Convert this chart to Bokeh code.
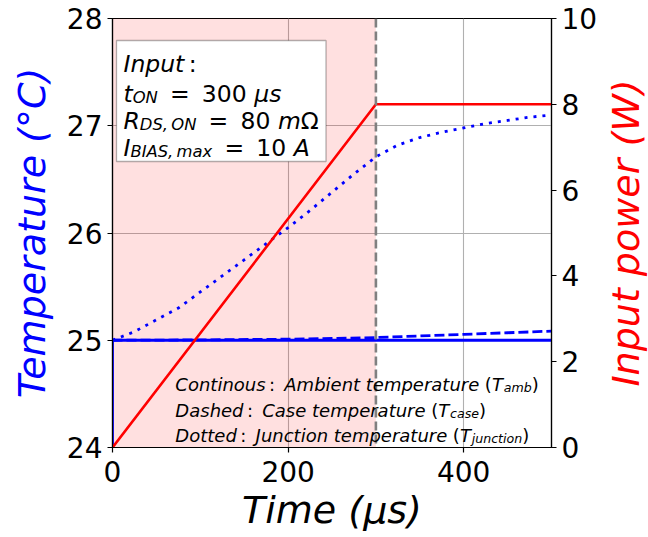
import math
from bokeh.plotting import figure
from bokeh.layouts import row
from bokeh.models import Range1d, LinearAxis, FixedTicker, BoxAnnotation, Span, Label
from bokeh.embed import file_html
from bokeh.resources import INLINE

# ---------------- data ----------------
time_us = [0, 25, 50, 75, 100, 125, 150, 175, 200, 225, 250, 275, 300,
           325, 350, 375, 400, 425, 450, 475, 500]
t_junction = [25.00, 25.08, 25.19, 25.30, 25.45, 25.60, 25.75, 25.90, 26.05,
              26.21, 26.38, 26.55, 26.71, 26.82, 26.89, 26.94, 26.98, 27.02,
              27.05, 27.08, 27.10]
case_time = [0, 100, 200, 300, 350, 400, 450, 500]
t_case = [25.00, 25.003, 25.01, 25.025, 25.04, 25.055, 25.07, 25.085]
ambient_time = [0, 0, 500]
t_ambient = [24.0, 25.0, 25.0]
power_time = [0, 300, 500]
power_w = [0, 8, 8]
t_on = 300
x_ticks = [0, 200, 400]
temp_ticks = [24, 25, 26, 27, 28]
power_ticks = [0, 2, 4, 6, 8, 10]

# ---------------- layout helpers (window px -> data) ----------------
FX0, FX1, FY0, FY1 = 112, 552, 447, 18
def dx(px):
    return (px - FX0) * 500.0 / (FX1 - FX0)
def dy(py):
    return 24 + (FY0 - py) * 4.0 / (FY0 - FY1)

FONT = "DejaVu Sans"
# DejaVu Sans advance widths (em)
GW = {'a': .613, 'b': .635, 'c': .550, 'd': .635, 'e': .615, 'h': .634, 'i': .278,
      'j': .278, 'm': .974, 'n': .634, 'o': .612, 'p': .635, 'r': .411, 's': .521,
      't': .392, 'u': .634, 'x': .592, 'A': .684, 'B': .686, 'C': .698, 'D': .770,
      'I': .295, 'J': .295, 'N': .748, 'O': .787, 'R': .695, 'S': .635, 'T': .611,
      ',': .318, ':': .337, '=': .838, '(': .390, ')': .390, '0': .636, '1': .636,
      '3': .636, '8': .636, 'μ': .636, 'Ω': .765, ' ': .318}
def wem(s):
    return sum(GW.get(c, 0.6) for c in s)

W, H = 648, 537
SIDE_W = 48          # strip on the right that carries the power-axis title
MAIN_W = W - SIDE_W

p = figure(width=MAIN_W, height=H, x_range=Range1d(0, 500), y_range=Range1d(24, 28),
           output_backend="svg", toolbar_location=None,
           min_border_left=FX0, min_border_right=MAIN_W - FX1, min_border_top=FY1,
           min_border_bottom=H - FY0)
p.extra_y_ranges = {"power": Range1d(0, 10)}
p.background_fill_color = "white"
p.border_fill_color = "white"
p.outline_line_color = "black"
p.outline_line_width = 1.2

# shaded on-time region
p.add_layout(BoxAnnotation(left=0, right=t_on, fill_color="#ff0000", fill_alpha=0.12,
                           line_alpha=0, level="underlay"))

# grid
p.xgrid.ticker = FixedTicker(ticks=x_ticks)
p.ygrid.ticker = FixedTicker(ticks=temp_ticks)
for g in (p.xgrid, p.ygrid):
    g.grid_line_color = "#b0b0b0"
    g.grid_line_width = 1.1

# axes
def style_axis(ax, label, color):
    ax.major_label_text_font = FONT
    ax.major_label_text_font_size = "28px"
    ax.major_label_text_color = "black"
    ax.major_tick_out = 5
    ax.major_tick_in = 0
    ax.minor_tick_out = 0
    ax.minor_tick_in = 0
    ax.axis_line_color = "black"
    ax.axis_line_width = 1.2
    ax.major_tick_line_width = 1.2
    ax.major_label_standoff = 5
    if label:
        ax.axis_label = label
        ax.axis_label_text_font = FONT
        ax.axis_label_text_font_size = "38px"
        ax.axis_label_text_font_style = "italic"
        ax.axis_label_text_color = color

xax = p.xaxis[0]
lax = p.yaxis[0]
xax.ticker = FixedTicker(ticks=x_ticks)
lax.ticker = FixedTicker(ticks=temp_ticks)
style_axis(xax, "Time (μs)", "black")
style_axis(lax, "Temperature (°C)", "blue")
xax.major_label_standoff = 8
xax.axis_label_standoff = 3
lax.axis_label_standoff = 10

rax = LinearAxis(y_range_name="power", ticker=FixedTicker(ticks=power_ticks))
style_axis(rax, None, "red")
p.add_layout(rax, "right")

# lines
p.line(time_us, t_junction, line_color="blue", line_width=2.8, line_dash="3 6")
p.line(case_time, t_case, line_color="blue", line_width=2.8, line_dash="10 4")
p.line(ambient_time, t_ambient, line_color="blue", line_width=2.8)
p.line(power_time, power_w, line_color="red", line_width=2.6, y_range_name="power")

p.add_layout(Span(location=t_on, dimension="height", line_color="#808080",
                  line_width=2.6, line_dash="9 4"))

def put(text, px, py, size, style="italic", color="black"):
    p.add_layout(Label(x=dx(px), y=dy(py), text=text, text_font=FONT,
                       text_font_size=f"{size:.1f}px", text_font_style=style,
                       text_color=color, text_align="left", text_baseline="alphabetic"))

# mathtext-like flow: tokens are ("k", m-units) kerns or (text, style, is_sub)
SUBSCALE = 0.7
def flow(x0, base, size, tokens):
    x = x0
    m_em = GW['m']
    for tok in tokens:
        if tok[0] == "k":
            x += tok[1] * m_em * size
            continue
        txt, st, sub = tok
        fs = size * SUBSCALE if sub else size
        put(txt, x, base + (0.15 * size if sub else 0), fs, style=st)
        x += wem(txt) * fs

SP = ("k", 1 / 3)       # "\ "
REL = ("k", 0.2)        # spacing around relations
SUBP = ("k", 0.2 * SUBSCALE)  # space after comma inside subscript

# input parameter box
p.add_layout(BoxAnnotation(left=dx(116), right=dx(326), top=dy(40), bottom=dy(161),
                           fill_color="white", fill_alpha=1.0, line_color="black",
                           line_width=1.3))
BOX = 23.5
def eq_tail(num, unit):
    return [SP, REL, ("=", "normal", False), REL, SP, (num, "normal", False), SP] + unit
flow(123, 63, BOX, [("Input", "italic", False), REL, (":", "normal", False)])
flow(123, 93, BOX, [("t", "italic", False), ("ON", "italic", True)]
     + eq_tail("300", [("μs", "italic", False)]))
flow(123, 120, BOX, [("R", "italic", False), ("DS,", "italic", True), SUBP, ("ON", "italic", True)]
     + eq_tail("80", [("m", "italic", False), ("Ω", "normal", False)]))
flow(123, 147, BOX, [("I", "italic", False), ("BIAS,", "italic", True), SUBP, ("max", "italic", True)]
     + eq_tail("10", [("A", "italic", False)]))

# line-style notes
NOTE = 18.0
def note(base, head, desc1, desc2, sub):
    flow(175, base, NOTE, [(head, "italic", False), REL, (":", "normal", False), REL, SP,
                           (desc1, "italic", False), SP, (desc2, "italic", False), SP,
                           ("(", "normal", False), ("T", "italic", False), ("k", 0.05),
                           (sub, "italic", True), (")", "normal", False)])
note(384, "Continous", "Ambient", "temperature", "amb")
note(410, "Dashed", "Case", "temperature", "case")
note(435, "Dotted", "Junction", "temperature", "junction")

# right strip: a tick-less left axis whose title reads bottom-to-top like the reference
side = figure(width=SIDE_W, height=H, x_range=Range1d(0, 1), y_range=Range1d(0, 10),
              output_backend="svg", toolbar_location=None, x_axis_type=None,
              min_border_left=SIDE_W - 1, min_border_right=0,
              min_border_top=FY1, min_border_bottom=H - FY0)
side.outline_line_color = None
side.background_fill_color = "white"
side.border_fill_color = "white"
side.ygrid.visible = False
sax = side.yaxis[0]
sax.ticker = FixedTicker(ticks=[])
sax.major_tick_out = 0
sax.major_tick_in = 0
sax.minor_tick_out = 0
sax.minor_tick_in = 0
sax.major_label_standoff = 0
sax.axis_line_color = None
sax.axis_label = "Input power (W)"
sax.axis_label_standoff = 0
sax.axis_label_text_font = FONT
sax.axis_label_text_font_size = "38px"
sax.axis_label_text_font_style = "italic"
sax.axis_label_text_color = "red"

layout = row(p, side, spacing=0)
open("out.html", "w").write(file_html(layout, INLINE))
